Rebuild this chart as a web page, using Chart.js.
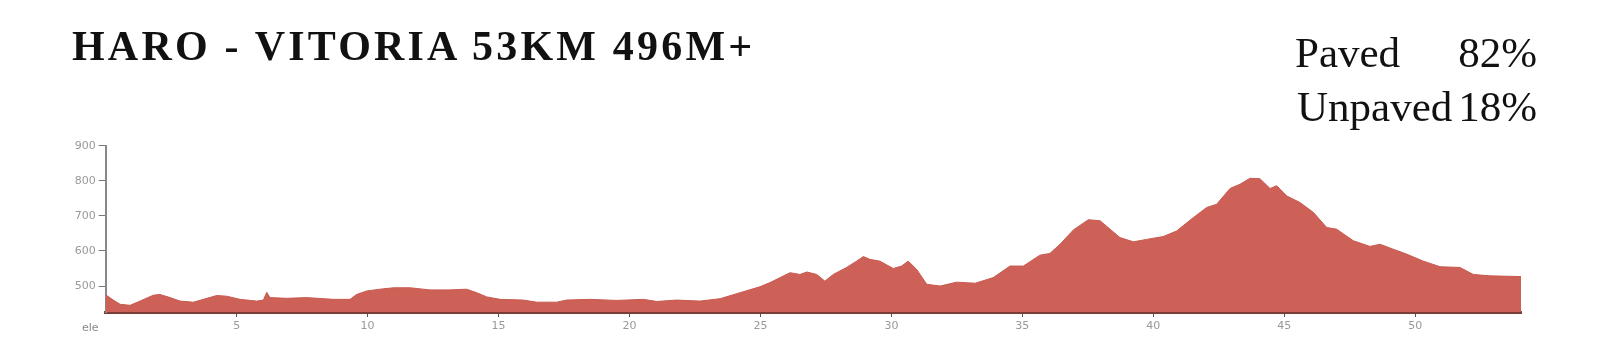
<!DOCTYPE html>
<html>
<head>
<meta charset="utf-8">
<script src="https://cdn.jsdelivr.net/npm/chart.js@4.4.0/dist/chart.umd.min.js"></script>
<style>
  body { margin: 0; background: #fff; }
  #wrap { position: relative; width: 1609px; height: 352px; overflow: hidden; }
  #chartBox { position: absolute; left: 0; top: 0; width: 1609px; height: 352px; }
  .txt { position: absolute; font-family: "Liberation Serif", "DejaVu Serif", serif; color: #111; white-space: nowrap; }
  #title { left: 72px; top: 25px; font-size: 42px; line-height: 42px; font-weight: bold; letter-spacing: 3.2px; }
  .surf { font-size: 43px; line-height: 43px; }
  #ele { position: absolute; left: 82px; top: 321px; font: 11px "DejaVu Sans", sans-serif; color: #8a8a8a; }
</style>
</head>
<body>
<div id="wrap">
  <div id="chartBox"><canvas id="profile"></canvas></div>
  <div id="title" class="txt">HARO - VITORIA 53KM 496M+</div>
  <div class="txt surf" style="left:1295px; top:31px;">Paved</div>
  <div class="txt surf" style="right:72px; top:31px; text-align:right;">82%</div>
  <div class="txt surf" style="left:1297px; top:85px;">Unpaved</div>
  <div class="txt surf" style="right:72px; top:85px; text-align:right;">18%</div>
  <div id="ele">ele</div>
</div>
<script>
// distance along the route (km) and elevation (m)
const distanceKm = [
  0, 0.29, 0.55, 0.93, 1.31, 1.82, 2.07, 2.46, 2.84, 3.35, 3.73, 4.24, 4.62,
  5.13, 5.77, 6.02, 6.15, 6.27, 6.91, 7.67, 8.69, 9.33, 9.58, 9.97, 10.47,
  10.98, 11.62, 12.38, 13.15, 13.78, 14.17, 14.55, 15.06, 15.94, 16.46, 17.22,
  17.6, 18.49, 19.51, 20.53, 21.04, 21.8, 22.69, 23.46, 24.22, 24.98, 25.37,
  25.75, 26.13, 26.51, 26.77, 27.15, 27.46, 27.78, 28.29, 28.67, 28.93, 29.18,
  29.56, 30.07, 30.39, 30.64, 30.96, 31.35, 31.86, 32.49, 33.2, 33.89, 34.53,
  35.04, 35.67, 36.05, 36.44, 36.95, 37.52, 37.97, 38.35, 38.73, 39.24, 39.75,
  40.38, 40.89, 41.53, 42.04, 42.42, 42.93, 43.31, 43.69, 44.07, 44.46, 44.71,
  45.09, 45.6, 46.11, 46.62, 47.0, 47.64, 48.27, 48.66, 49.16, 49.67, 50.31,
  50.95, 51.71, 52.22, 52.86, 54.04
];
const elevationM = [
  475, 460, 448, 445, 457, 474, 476, 467, 457, 454, 462, 473, 471,
  462, 457, 460, 482, 467, 465, 467, 462, 462, 476, 486, 491,
  495, 495, 489, 489, 491, 481, 469, 462, 460, 454, 454,
  460, 462, 459, 462, 456, 460, 457, 464, 481, 498, 510,
  524, 538, 533, 540, 533, 514, 533, 553, 571, 584, 576,
  571, 550, 557, 571, 548, 505, 500, 511, 508, 524, 557,
  557, 588, 593, 619, 660, 689, 686, 662, 638, 626, 633,
  641, 657, 695, 724, 733, 778, 790, 807, 806, 778, 786,
  757, 738, 710, 667, 662, 629, 613, 619, 605, 591, 571,
  555, 553, 533, 529, 527
];
const yTicks = [500, 600, 700, 800, 900];
const xTicks = [5, 10, 15, 20, 25, 30, 35, 40, 45, 50];

const points = distanceKm.map((d, i) => ({ x: d, y: elevationM[i] }));

const ctx = document.getElementById("profile");
new Chart(ctx, {
  type: "line",
  data: {
    datasets: [
      {
        data: points,
        fill: "start",
        backgroundColor: "#cd6157",
        borderColor: "#c95a50",
        borderWidth: 1,
        pointRadius: 0,
        tension: 0,
      },
    ],
  },
  options: {
    responsive: true,
    maintainAspectRatio: false,
    animation: false,
    layout: { padding: { left: 69.7, right: 88, top: 145.7, bottom: 0 } },
    plugins: { legend: { display: false }, tooltip: { enabled: false } },
    scales: {
      x: {
        type: "linear",
        min: 0,
        max: 54.04,
        afterBuildTicks: (s) => { s.ticks = xTicks.map((v) => ({ value: v })); },
        afterFit: (s) => { s.height = 40; },
        grid: { drawOnChartArea: false, drawTicks: true, tickLength: 5, color: "#555" },
        border: { color: "#7b3f3a", width: 3 },
        ticks: { color: "#999", padding: 3, maxRotation: 0, font: { family: "DejaVu Sans", size: 11 } },
      },
      y: {
        min: 426,
        max: 900,
        afterBuildTicks: (s) => { s.ticks = yTicks.map((v) => ({ value: v })); },
        afterFit: (s) => { s.width = 36; },
        grid: { drawOnChartArea: false, drawTicks: true, tickLength: 7, color: "#777" },
        border: { color: "#888", width: 2 },
        ticks: { color: "#999", padding: 3, font: { family: "DejaVu Sans", size: 11 } },
      },
    },
  },
});
</script>
</body>
</html>
